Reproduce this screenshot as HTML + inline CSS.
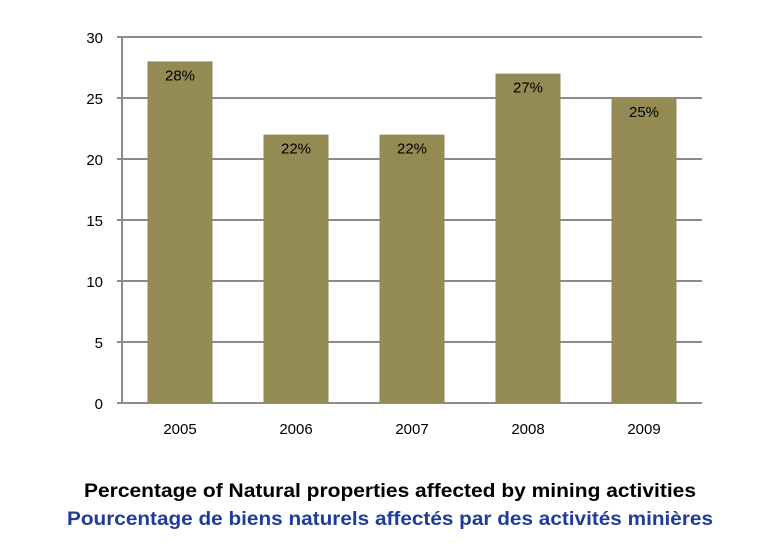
<!DOCTYPE html>
<html><head><meta charset="utf-8"><style>
body{margin:0;background:#fff;}
svg text{font-family:"Liberation Sans",sans-serif;}
</style></head><body>
<svg width="780" height="540" viewBox="0 0 780 540">
<g id="grid"></g><g id="bars"></g><g id="labels"></g>
<text x="390" y="497" text-anchor="middle" font-size="19" font-weight="bold" fill="#000" textLength="612" lengthAdjust="spacingAndGlyphs">Percentage of Natural properties affected by mining activities</text>
<text x="390" y="525" text-anchor="middle" font-size="19" font-weight="bold" fill="#1f3c9c" textLength="646" lengthAdjust="spacingAndGlyphs">Pourcentage de biens naturels affectés par des activités minières</text>
</svg>
<script>
const categories=["2005","2006","2007","2008","2009"];
const values=[28,22,22,27,25];
const valueLabels=["28%","22%","22%","27%","25%"];
const yTicks=[0,5,10,15,20,25,30];
const NS="http://www.w3.org/2000/svg";
const x0=122,x1=702,y0=403,y1=37,yMax=30;
const y=v=>y0-(v/yMax)*(y0-y1);
const band=(x1-x0)/categories.length;
const xc=i=>x0+band*(i+0.5);
function mk(t,a,p){const e=document.createElementNS(NS,t);for(const k in a)e.setAttribute(k,a[k]);p.appendChild(e);return e;}
const g=document.getElementById('grid'),b=document.getElementById('bars'),l=document.getElementById('labels');
yTicks.forEach(t=>{
 const ln=mk('line',{x1:x0-5,x2:x1,y1:y(t),y2:y(t),stroke:'#8c8c8c','stroke-width':2},g);
 
 
 const tx=mk('text',{x:103,y:y(t)+6,'text-anchor':'end','font-size':15,fill:'#000'},g);
 tx.textContent=t;
 
 
});
const ax=mk('line',{x1:x0,x2:x0,y1:y1-1,y2:y0+1,stroke:'#8c8c8c','stroke-width':2},g);


const bw=65;
categories.forEach((c,i)=>{
 const r=mk('rect',{x:xc(i)-bw/2,y:y(values[i]),width:bw,height:y0-y(values[i]),fill:'#948b54'},b);
 
 
 const t=mk('text',{x:xc(i),y:y(values[i])+19,'text-anchor':'middle','font-size':15,fill:'#000'},l);
 t.textContent=valueLabels[i];
 
 
 const ct=mk('text',{x:xc(i),y:434,'text-anchor':'middle','font-size':15,fill:'#000'},l);
 ct.textContent=c;
 
 
});
</script>
</body></html>
